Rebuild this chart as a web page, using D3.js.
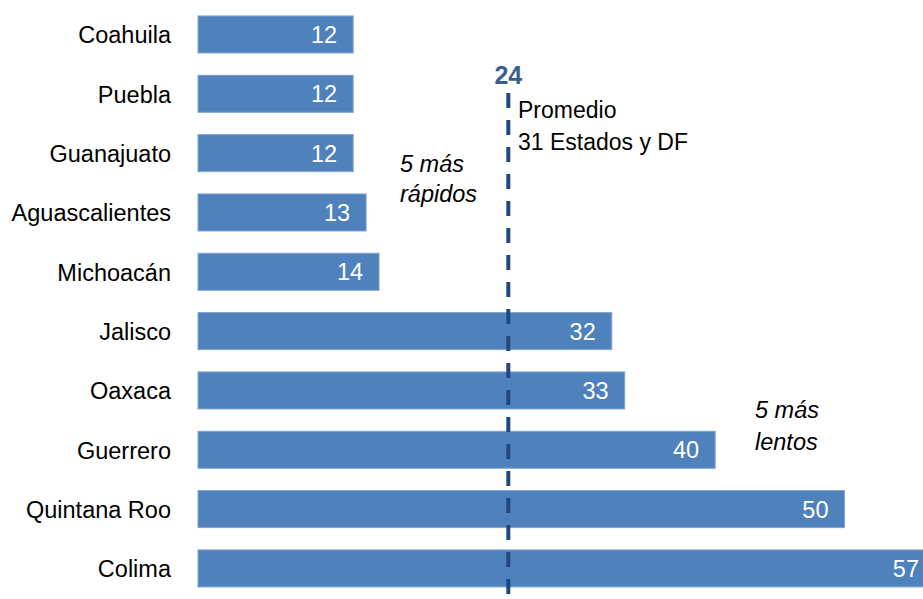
<!DOCTYPE html>
<html><head><meta charset="utf-8">
<script src="https://cdn.jsdelivr.net/npm/d3@7"></script>
<style>html,body{margin:0;padding:0;background:#fff;overflow:hidden}</style>
</head><body>
<svg id="chart" width="923" height="599"></svg>
<script>
const categories = ["Coahuila","Puebla","Guanajuato","Aguascalientes","Michoacán","Jalisco","Oaxaca","Guerrero","Quintana Roo","Colima"];
const values = [12,12,12,13,14,32,33,40,50,57];
const average = 24;
const averageLabel = ["Promedio","31 Estados y DF"];
const fastNote = ["5 más","rápidos"];
const slowNote = ["5 más","lentos"];

const W = 923, H = 599;
const svg = d3.select("#chart");
const font = "'Liberation Sans', Arial, sans-serif";

const x = d3.scaleLinear().domain([0, 60]).range([198, 198 + 12.93 * 60]);
const y = d3.scaleBand().domain(categories).range([4.8, 598.1]).paddingInner(0.376).paddingOuter(0.188);

// bars
svg.append("g").selectAll("rect").data(categories).join("rect")
  .attr("x", x(0))
  .attr("y", d => y(d))
  .attr("width", (d,i) => x(values[i]) - x(0))
  .attr("height", y.bandwidth())
  .attr("fill", "#4f81bd")
  .attr("stroke", "#7fa3d2").attr("stroke-width", 1);

// value labels
svg.append("g").selectAll("text").data(categories).join("text")
  .attr("x", (d,i) => Math.min(x(values[i]), W + 14) - 16)
  .attr("y", d => y(d) + y.bandwidth()/2)
  .attr("dy", "0.36em")
  .attr("text-anchor", "end")
  .attr("fill", "#ffffff")
  .attr("font-family", font).attr("font-size", 23.5)
  .text((d,i) => values[i]);

// category axis
const yAxis = d3.axisLeft(y).tickSize(0).tickPadding(0);
const ag = svg.append("g").attr("transform", "translate(171,0)").call(yAxis);
ag.select(".domain").remove();
ag.selectAll("text").attr("font-family", font).attr("font-size", 23.5).attr("fill", "#000").attr("dy", "0.38em");

// average line
svg.append("line")
  .attr("x1", x(average)).attr("x2", x(average))
  .attr("y1", 93).attr("y2", H)
  .attr("stroke", "#1f497d").attr("stroke-width", 4)
  .attr("stroke-dasharray", "15,12");

svg.append("text").attr("x", x(average)).attr("y", 84)
  .attr("text-anchor", "middle").attr("font-family", font).attr("font-weight", "bold")
  .attr("font-size", 25).attr("fill", "#376092").text(average);

svg.append("g").selectAll("text").data(averageLabel).join("text")
  .attr("x", 518).attr("y", (d,i) => 118 + i*32)
  .attr("font-family", font).attr("font-size", 23).attr("fill", "#000").text(d => d);

svg.append("g").selectAll("text").data(fastNote).join("text")
  .attr("x", 400).attr("y", (d,i) => 172 + i*30)
  .attr("font-family", font).attr("font-style", "italic").attr("font-size", 23.5).attr("fill", "#000").text(d => d);

svg.append("g").selectAll("text").data(slowNote).join("text")
  .attr("x", 755).attr("y", (d,i) => 418 + i*32)
  .attr("font-family", font).attr("font-style", "italic").attr("font-size", 23.5).attr("fill", "#000").text(d => d);
</script>
</body></html>
